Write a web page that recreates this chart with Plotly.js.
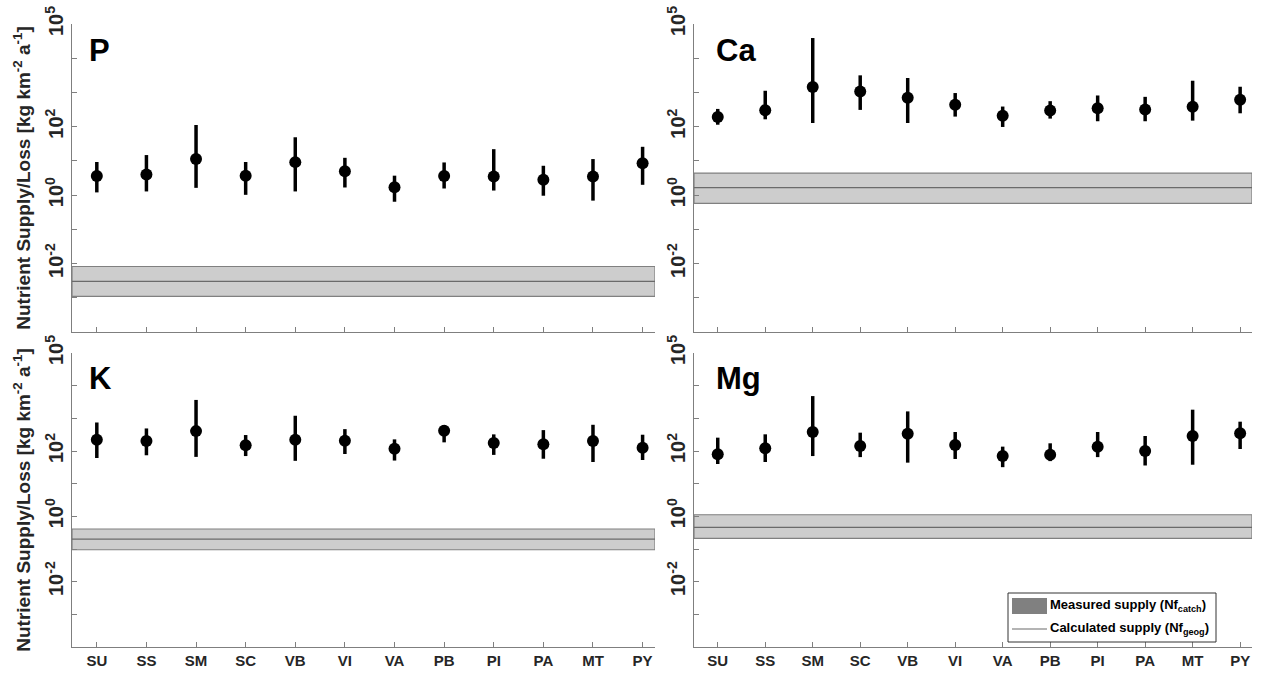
<!DOCTYPE html>
<html>
<head>
<meta charset="utf-8">
<script src="https://cdn.plot.ly/plotly-3.0.1.min.js"></script>
<style>html,body{margin:0;padding:0;background:#fff;}#chart{width:1261px;height:675px;}</style>
</head>
<body>
<div id="chart"></div>
<script>
const sites = ['SU','SS','SM','SC','VB','VI','VA','PB','PI','PA','MT','PY'];

const P_val = [3.6, 4.0, 11.3, 3.7, 9.2, 5.0, 1.7, 3.6, 3.5, 2.8, 3.5, 8.5];
const P_hi  = [9.3, 14.8, 112, 9.3, 49, 12.3, 3.7, 9.0, 22, 7.2, 11.3, 25.8];
const P_lo  = [1.2, 1.28, 1.63, 1.02, 1.28, 1.67, 0.64, 1.56, 1.36, 0.96, 0.69, 2.0];

const Ca_val = [192, 302, 1435, 1070, 697, 434, 210, 296, 347, 316, 380, 609];
const Ca_hi  = [330, 1120, 38900, 3160, 2640, 960, 387, 556, 815, 744, 2200, 1468];
const Ca_lo  = [114, 164, 128, 309, 128, 197, 98, 172, 144, 144, 150, 246];

const K_val = [221, 202, 406, 149, 221, 206, 118, 415, 175, 160, 202, 126];
const K_hi  = [746, 490, 3660, 308, 1200, 467, 227, 620, 323, 436, 635, 315];
const K_lo  = [61, 74, 66, 70, 50, 81, 51, 184, 76, 58, 46, 53];

const Mg_val = [79, 121, 382, 142, 339, 153, 70, 77, 136, 100, 288, 347];
const Mg_hi  = [256, 324, 4800, 364, 1630, 382, 136, 172, 382, 288, 1840, 790];
const Mg_lo  = [40, 46, 70, 65, 44, 57, 32, 49, 65, 36, 38, 115];

// measured supply band (low, high) and calculated supply line
const P_band = [0.0011, 0.0082];  const P_geog = 0.003;
const Ca_band = [0.57, 4.4];      const Ca_geog = 1.65;
const K_band = [0.095, 0.41];     const K_geog = 0.2;
const Mg_band = [0.21, 1.12];     const Mg_geog = 0.46;

const yLabelVals = [1e-2, 1, 1e2, 1e5];
const yLabelText = ['10<sup>-2</sup>','10<sup>0</sup>','10<sup>2</sup>','10<sup>5</sup>'];
const yMinorVals = [1e-4, 1e-3, 1e-1, 1e1, 1e3, 1e4];
const xRange = [0.5, 12.25];

const FONT = 'Arial, "Liberation Sans", Helvetica, sans-serif';
const AX = '#7f7f7f';

const panels = [
  {name:'P', val:P_val, hi:P_hi, lo:P_lo, band:P_band, geog:P_geog, xa:'x', ya:'y'},
  {name:'Ca', val:Ca_val, hi:Ca_hi, lo:Ca_lo, band:Ca_band, geog:Ca_geog, xa:'x2', ya:'y2'},
  {name:'K', val:K_val, hi:K_hi, lo:K_lo, band:K_band, geog:K_geog, xa:'x3', ya:'y3'},
  {name:'Mg', val:Mg_val, hi:Mg_hi, lo:Mg_lo, band:Mg_band, geog:Mg_geog, xa:'x4', ya:'y4'}
];

const xpos = sites.map((s,i)=>i+1);
const traces = [];
panels.forEach(p=>{
  traces.push({
    x:[xRange[0], xRange[1], xRange[1], xRange[0], xRange[0]],
    y:[p.band[0], p.band[0], p.band[1], p.band[1], p.band[0]],
    xaxis:p.xa, yaxis:p.ya, mode:'lines', fill:'toself',
    fillcolor:'#cdcdcd', line:{color:'#808080', width:1.2},
    showlegend:false, hoverinfo:'skip'
  });
  traces.push({
    x:[xRange[0], xRange[1]], y:[p.geog, p.geog],
    xaxis:p.xa, yaxis:p.ya, mode:'lines',
    line:{color:'#6a6a6a', width:1.2}, showlegend:false, hoverinfo:'skip'
  });
  traces.push({
    x:xpos, y:p.val, xaxis:p.xa, yaxis:p.ya, mode:'markers', type:'scatter',
    marker:{color:'#000', size:12},
    error_y:{type:'data', symmetric:false,
      array:p.hi.map((h,i)=>h-p.val[i]),
      arrayminus:p.lo.map((l,i)=>p.val[i]-l),
      color:'#000', thickness:3.5, width:0},
    showlegend:false
  });
});

const W = 1261, H = 675;
const domL = [72/W, 655/W], domR = [694/W, 1252/W];
const domT = [1-332/H, 1-24/H], domB = [1-647/H, 1-353/H];

function xaxis(dom, anchor, labels){
  return {domain:dom, anchor:anchor, range:xRange, tickmode:'array', tickvals:xpos, ticktext:sites,
    showticklabels:labels, ticks:'inside', ticklen:5, tickcolor:AX, showline:true, linecolor:AX,
    linewidth:1, showgrid:false, zeroline:false,
    tickfont:{family:FONT, size:15, color:'#262626', weight:'bold'}};
}
function yaxis(dom, anchor, title){
  const a = {domain:dom, anchor:anchor, type:'log', range:[-4,5], tickmode:'array',
    tickvals:yLabelVals, ticktext:yLabelText,
    tickangle:-90, ticks:'inside', ticklen:5, ticklabelstandoff:0,
    tickcolor:AX, showline:true, linecolor:AX, linewidth:1, showgrid:false, zeroline:false,
    minor:{tickmode:'array', tickvals:yMinorVals, ticks:'inside', ticklen:5, tickcolor:AX, showgrid:false},
    tickfont:{family:FONT, size:20, color:'#262626', weight:'bold'}};
  if(title){
    a.title = {text:'Nutrient Supply/Loss [kg km<sup>-2</sup> a<sup>-1</sup>]', standoff:5,
      font:{family:FONT, size:19, color:'#262626', weight:'bold'}};
  }
  return a;
}

const layout = {
  width:W, height:H, margin:{l:0,r:0,t:0,b:0}, paper_bgcolor:'#fff', plot_bgcolor:'#fff',
  showlegend:false, font:{family:FONT},
  xaxis:xaxis(domL,'y',false), yaxis:yaxis(domT,'x',true),
  xaxis2:xaxis(domR,'y2',false), yaxis2:yaxis(domT,'x2',false),
  xaxis3:xaxis(domL,'y3',true), yaxis3:yaxis(domB,'x3',true),
  xaxis4:xaxis(domR,'y4',true), yaxis4:yaxis(domB,'x4',false),
  annotations:[],
  shapes:[]
};

const labelPos = [
  {x:87/W, y:1-31/H}, {x:714/W, y:1-31/H}, {x:87/W, y:1-359/H}, {x:714/W, y:1-359/H}
];
panels.forEach((p,i)=>{
  layout.annotations.push({text:p.name, xref:'paper', yref:'paper', x:labelPos[i].x, y:labelPos[i].y,
    xanchor:'left', yanchor:'top', showarrow:false,
    font:{family:FONT, size:31, color:'#000', weight:'bold'}});
});

// legend box (manual)
layout.shapes.push({type:'rect', xref:'paper', yref:'paper', x0:1008/W, x1:1216/W, y0:1-642/H, y1:1-593/H,
  line:{color:'#333', width:1}, fillcolor:'#fff'});
layout.shapes.push({type:'rect', xref:'paper', yref:'paper', x0:1012/W, x1:1047/W, y0:1-614/H, y1:1-598/H,
  line:{width:0}, fillcolor:'#808080'});
layout.shapes.push({type:'line', xref:'paper', yref:'paper', x0:1012/W, x1:1047/W, y0:1-629/H, y1:1-629/H,
  line:{color:'#6a6a6a', width:1.2}});
layout.annotations.push({text:'Measured supply (Nf<sub>catch</sub>)', xref:'paper', yref:'paper',
  x:1048/W, y:1-605/H, xanchor:'left', yanchor:'middle', showarrow:false,
  font:{family:FONT, size:13, color:'#000', weight:'bold'}});
layout.annotations.push({text:'Calculated supply (Nf<sub>geog</sub>)', xref:'paper', yref:'paper',
  x:1048/W, y:1-628/H, xanchor:'left', yanchor:'middle', showarrow:false,
  font:{family:FONT, size:13, color:'#000', weight:'bold'}});

Plotly.newPlot('chart', traces, layout, {staticPlot:true, displayModeBar:false});
</script>
</body>
</html>
